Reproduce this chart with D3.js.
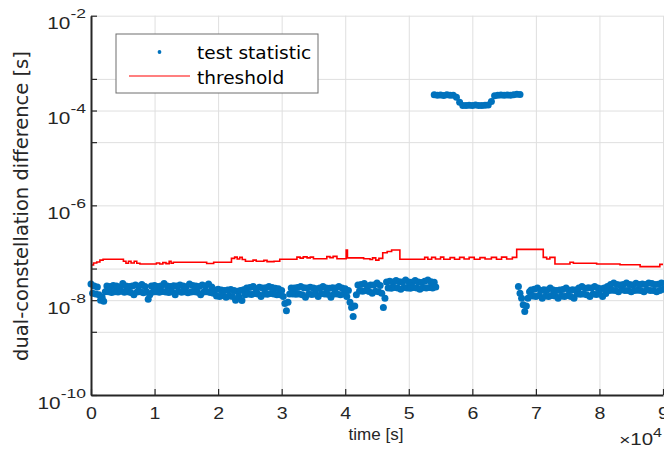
<!DOCTYPE html>
<html><head><meta charset="utf-8">
<script src="https://cdn.jsdelivr.net/npm/d3@7/dist/d3.min.js"></script>
<style>html,body{margin:0;padding:0;background:#fff;}svg{display:block;}</style>
</head><body>
<svg id="chart" width="664" height="450"></svg>
<script>
// ---------- data ----------
const xTickValues = [0, 10000, 20000, 30000, 40000, 50000, 60000, 70000, 80000, 90000];
const xTickLabels = ["0","1","2","3","4","5","6","7","8","9"];
const yTickExponents = [-10, -8.667, -8, -7.333, -6, -4.667, -4, -3.333, -2];
const yLabelExponents = [-10, -8, -6, -4, -2];

// test statistic, segment 1 (values x 1e-8 s), sampled every 250 s from t = 0
const stat1Start = 0, stat1Step = 250, stat1Unit = 1e-8;
const stat1 = [2.2,1.4,2.0,1.35,1.9,
  1.3,1.0,1.15,0.95,1.5,
  2.0,1.5,1.95,1.45,2.05,1.5,1.99,1.49,1.9,1.55,2.25,1.47,1.99,1.5,1.95,1.45,2.0,1.3,2.08,1.49,1.97,1.5,2.15,1.44,1.95,1.5,
  1.05,1.3,
  1.99,1.49,2.05,1.5,1.95,1.47,2.0,1.52,2.25,1.49,1.99,1.45,1.95,1.5,2.02,1.3,1.99,1.55,2.08,1.47,
  1.99,1.5,1.93,1.44,2.2,1.49,2.05,1.5,1.99,1.47,1.95,1.3,2.1,1.49,1.99,1.5,2.2,1.45,1.9,1.4,
  1.64,1.23,1.7,1.2,1.64,1.25,1.6,1.15,1.64,1.23,1.68,1.2,
  1.6,1.0,1.55,1.2,1.6,0.98,1.65,1.3,
  1.80,1.35,1.85,1.32,1.95,1.38,1.75,1.35,1.88,1.2,1.80,1.35,1.82,1.33,1.95,1.38,1.85,1.35,1.78,1.3,
  1.75,1.3,1.6,1.2,0.85,0.6,0.9,1.35,1.8,
  1.35,1.80,1.33,1.85,1.35,1.95,1.3,1.82,1.15,1.80,1.35,1.88,1.32,1.80,1.35,1.75,1.2,1.80,1.38,1.95,
  1.35,1.80,1.33,1.78,1.15,1.82,1.35,1.80,1.35,1.95,1.3,1.80,1.35,
  1.75,1.2,1.6,0.9,0.7,0.45,0.75,1.3,
  2.08,1.56,2.15,1.55,2.25,1.6,2.0,1.52,2.1,1.4,2.08,1.55,2.3,1.5,2.05,1.4,
  0.7,1.1,
  2.41,1.81,2.5,1.78,2.41,1.85,2.6,1.81,2.45,1.7,2.41,1.84,2.65,1.81,2.41,1.78,2.4,1.85,2.6,1.81,
  2.41,1.7,2.35,1.83,2.5,1.81,2.65,1.85,2.45,1.81,2.4,1.9];
// segment 2 (values x 1e-4 s), every 500 s
const stat2Start = 54000, stat2Step = 500, stat2Unit = 1e-4;
const stat2 = [2.15,2.1,2.12,2.08,2.14,2.1,2.1,1.9,1.5,1.28,1.27,1.29,1.28,1.3,1.27,1.28,1.29,1.3,1.55,
  2.05,2.1,2.12,2.1,2.13,2.1,2.15,2.2,2.18];
// segment 3 (values x 1e-8 s), every 250 s
const stat3Start = 67250, stat3Step = 250, stat3Unit = 1e-8;
const stat3 = [1.95,1.4,1.1,0.8,0.58,0.75,1.1,1.5,
  1.64,1.23,1.7,1.2,1.8,1.25,1.6,1.1,1.66,1.23,1.64,1.2,1.8,1.25,1.64,1.23,1.6,1.1,1.64,1.23,
  1.68,1.2,1.8,1.25,1.62,1.2,1.66,1.1,1.64,
  1.35,1.80,1.33,1.95,1.35,1.78,1.3,1.82,1.2,1.80,1.35,1.95,1.32,1.80,1.35,1.75,1.2,1.80,1.38,1.95,
  1.6,2.14,1.62,2.3,1.6,2.14,1.5,2.1,1.65,2.14,1.6,2.3,1.6,2.14,1.5,2.1,1.6,2.28,1.62,2.14,
  1.6,2.2,1.5,2.14,1.65,2.3,1.6,2.25,1.6,2.14,1.5,2.18,1.6,2.3,1.7];

// threshold (step changes), values x 1e-8 s
const thresholdUnit = 1e-8;
const thresholdTime = [0,400,900,1400,1900,5100,5500,5900,6300,6800,7200,7700,10300,10800,11300,11800,12300,12600,12950,
  18200,19300,22100,22600,23000,23400,23800,24300,25500,26000,27200,27700,28800,29700,32400,32900,33400,34000,34500,
  35000,37100,37600,38100,38700,40150,40350,42900,43900,44300,44800,45300,45900,46600,47300,48600,52500,53000,53600,
  54200,55000,55500,56500,57200,58000,58700,59500,60300,61200,62000,63000,63800,64600,65400,66300,66980,71160,71700,
  72200,73000,75360,75900,79560,83230,86400,89500,90000];
const thresholdValue = [5.5,6.1,6.4,7.0,7.3,6.6,6.0,6.6,6.1,6.6,6.0,5.8,6.1,5.8,6.2,5.9,6.6,6.0,6.3,
  5.95,6.3,7.6,8.1,7.4,8.0,7.2,6.6,7.0,6.6,6.9,6.5,6.6,7.3,8.1,7.7,8.2,7.8,8.1,
  7.5,8.3,7.9,8.4,7.5,11.4,7.8,7.5,7.2,7.8,7.0,7.6,10.0,10.6,11.4,7.3,8.0,7.3,8.0,
  7.4,8.1,7.3,7.9,7.3,8.0,7.4,8.0,7.3,7.9,7.4,8.0,7.3,8.1,7.4,8.0,11.8,8.0,7.4,
  8.0,5.8,6.3,6.0,5.8,5.6,5.1,5.7,5.7];

const legendLabels = ["test statistic", "threshold"];

// ---------- chart ----------
const blue = "#0072bd", red = "#ff0000", axisCol = "#262626", gridCol = "#dfdfdf";
const svg = d3.select("#chart");
svg.append("rect").attr("width",664).attr("height",450).attr("fill","#fff");

const plotLeft = 91, plotRight = 663, plotTop = 15.7, plotBottom = 395;
const x = d3.scaleLinear().domain([0, 90000]).range([plotLeft, plotRight]);
const y = d3.scaleLog().domain([1e-10, 1e-2]).range([plotBottom, plotTop]);
const yTickVals = yTickExponents.map(e => Math.pow(10, e));

// grid
const gxGrid = svg.append("g").attr("transform", `translate(0,${plotBottom})`)
  .call(d3.axisBottom(x).tickValues(xTickValues).tickSize(-(plotBottom - plotTop)).tickFormat(""));
const gyGrid = svg.append("g").attr("transform", `translate(${plotLeft},0)`)
  .call(d3.axisLeft(y).tickValues(yTickVals).tickSize(-(plotRight - plotLeft)).tickFormat(""));
[gxGrid, gyGrid].forEach(g => {
  g.select(".domain").remove();
  g.selectAll(".tick line").attr("stroke", gridCol).attr("stroke-width", 1);
});

// data
function toPoints(start, step, arr, unit) {
  return arr.map((v, i) => ({t: start + i * step, v: v * unit}));
}
const statPoints = [].concat(
  toPoints(stat1Start, stat1Step, stat1, stat1Unit),
  toPoints(stat2Start, stat2Step, stat2, stat2Unit),
  toPoints(stat3Start, stat3Step, stat3, stat3Unit));

const thr = thresholdTime.map((t, i) => ({t, v: thresholdValue[i] * thresholdUnit}));
svg.append("path").datum(thr)
  .attr("fill", "none").attr("stroke", red).attr("stroke-width", 1.6)
  .attr("d", d3.line().x(d => x(d.t)).y(d => y(d.v)).curve(d3.curveStepAfter));

svg.append("g").selectAll("circle").data(statPoints).join("circle")
  .attr("cx", d => x(d.t)).attr("cy", d => y(d.v)).attr("r", 3.5).attr("fill", blue);

// axes
const gx = svg.append("g").attr("transform", `translate(0,${plotBottom})`)
  .call(d3.axisBottom(x).tickValues(xTickValues).tickSizeInner(-6).tickSizeOuter(0)
    .tickFormat((d, i) => xTickLabels[i]).tickPadding(18));
gx.select(".domain").attr("stroke", axisCol).attr("stroke-width", 2);
gx.selectAll(".tick line").attr("stroke", axisCol).attr("stroke-width", 1.2);
gx.selectAll(".tick text").attr("fill", axisCol).attr("font-family", "Liberation Sans, Arial, sans-serif")
  .attr("font-size", 17).attr("y", 0).attr("dy", 0)
  .attr("transform", "translate(0,24) scale(1.15,1)");

const gy = svg.append("g").attr("transform", `translate(${plotLeft},0)`)
  .call(d3.axisLeft(y).tickValues(yTickVals).tickSizeInner(-6).tickSizeOuter(0).tickFormat(""));
gy.select(".domain").attr("stroke", axisCol).attr("stroke-width", 2);
gy.selectAll(".tick line").attr("stroke", axisCol).attr("stroke-width", 1.2);
gy.selectAll(".tick").each(function(d) {
  const e = Math.round(Math.log10(d) * 1000) / 1000;
  if (!yLabelExponents.includes(e)) return;
  const t = d3.select(this).append("text")
    .attr("transform", "translate(-5,13) scale(1.3,1)")
    .attr("text-anchor", "end").attr("fill", axisCol)
    .attr("font-family", "Liberation Sans, Arial, sans-serif");
  t.append("tspan").attr("font-size", 16).text("10");
  t.append("tspan").attr("font-size", 13.5).attr("dy", -11).text(String(e));
});

// x exponent label
const ex = svg.append("text").attr("transform", "translate(662,445) scale(1.28,1)")
  .attr("text-anchor", "end").attr("fill", axisCol)
  .attr("font-family", "Liberation Sans, Arial, sans-serif");
ex.append("tspan").attr("font-size", 15).text("\u00d7");
ex.append("tspan").attr("font-size", 16).text("10");
ex.append("tspan").attr("font-size", 12.5).attr("dy", -8).text("4");

// axis titles
svg.append("text").attr("x", 376).attr("y", 440).attr("text-anchor", "middle")
  .attr("font-family", "Liberation Sans, Arial, sans-serif").attr("font-size", 17)
  .attr("fill", axisCol).text("time [s]");
svg.append("text").attr("transform", "translate(28,206) rotate(-90)").attr("text-anchor", "middle")
  .attr("font-family", "DejaVu Sans, Verdana, sans-serif").attr("font-size", 19.5)
  .attr("fill", axisCol).text("dual-constellation difference [s]");

// legend
const lg = svg.append("g");
lg.append("rect").attr("x", 116).attr("y", 34).attr("width", 202).attr("height", 59)
  .attr("fill", "#fff").attr("stroke", "#6e6e6e").attr("stroke-width", 1);
lg.append("circle").attr("cx", 159.5).attr("cy", 52).attr("r", 1.9).attr("fill", blue);
lg.append("line").attr("x1", 129).attr("x2", 190).attr("y1", 76).attr("y2", 76)
  .attr("stroke", red).attr("stroke-width", 1.2);
lg.selectAll("text.lab").data(legendLabels).join("text").attr("class", "lab")
  .attr("x", 197).attr("y", (d, i) => i === 0 ? 59 : 84)
  .attr("font-family", "DejaVu Sans, Verdana, sans-serif").attr("font-size", 18.5)
  .attr("fill", "#000").text(d => d);
</script>
</body></html>
